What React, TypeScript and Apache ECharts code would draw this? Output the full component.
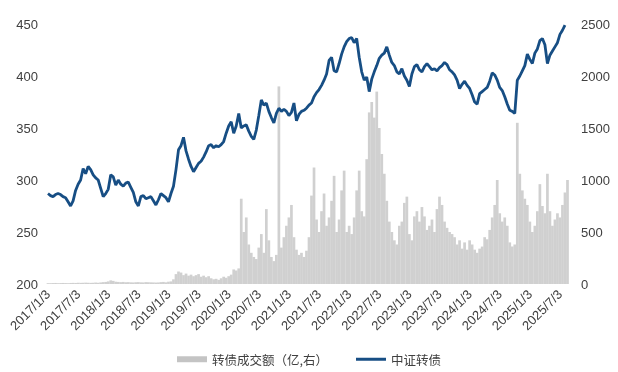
import React, { useEffect, useRef } from "react";
import * as echarts from "echarts";

// Sample step in months (x = months since 2017/1/3)
const stepMonths = 0.5;

// 中证转债 index, one reading every half month from 2017/1/3
const lineIndex = [
  287, 285, 284, 286, 287, 286, 284, 283, 279, 275,
  280, 290, 296, 300, 311, 306, 313, 310, 305, 302,
  300, 292, 284, 287, 291, 305, 303, 295, 300, 296,
  294, 297, 298, 293, 288, 279, 275, 284, 285, 282,
  283, 284, 280, 276, 281, 287, 285, 283, 279, 287,
  294, 310, 329, 333, 341, 328, 320, 313, 308, 312,
  316, 318, 322, 327, 333, 334, 331, 333, 332, 334,
  337, 345, 352, 356, 345, 352, 364, 350, 352, 353,
  347, 342, 339, 348, 362, 377, 372, 374, 366, 360,
  355, 364, 369, 366, 368, 366, 362, 365, 374, 357,
  363, 366, 367, 369, 372, 374, 380, 384, 387, 391,
  396, 402, 415, 418, 405, 404, 412, 421, 428, 433,
  436, 437, 432, 436, 418, 404, 396, 399, 385, 397,
  404, 410, 417, 420, 422, 428, 420, 413, 410, 404,
  402, 407, 400, 396, 390, 402, 409, 411, 406, 404,
  409, 412, 409, 406, 407, 405, 408, 410, 413, 411,
  406, 404, 401, 396, 388, 392, 395, 391, 388, 382,
  375, 373, 383, 385, 387, 389, 395, 403, 401, 396,
  389, 386, 380, 373, 367, 366, 364, 396, 400, 405,
  410, 421, 416, 412, 422, 426, 434, 436, 430, 412,
  420, 424, 428, 432, 440, 444, 449,
];

// 转债成交额 (亿), one reading every half month from 2017/1/3
const turnover = [
  8, 8, 9, 10, 8, 9, 10, 9, 8, 10,
  11, 10, 12, 11, 12, 13, 12, 11, 12, 14,
  12, 15, 18, 20, 25, 35, 30, 22, 20, 18,
  20, 17, 18, 16, 15, 17, 18, 16, 15, 18,
  17, 16, 15, 14, 15, 18, 20, 16, 22, 25,
  45, 95, 120, 110, 85, 100, 80, 90, 75, 85,
  95, 70, 80, 65, 75, 55, 45, 50, 40, 55,
  70, 60, 75, 90, 140, 130, 150, 820, 500, 640,
  380, 300, 260, 240, 350, 480, 300, 720, 420, 260,
  220, 280, 1900, 350, 450, 560, 640, 760, 450, 330,
  280, 300, 260, 320, 450, 850, 1120, 620, 500, 700,
  870, 560, 640, 800, 1040, 500, 620, 900, 1090, 500,
  560, 480, 640, 900, 1090, 700, 650, 1200, 1650, 1750,
  1600, 1850, 1500, 1250, 1060, 800, 600, 500, 420, 380,
  560, 600, 780, 840, 480, 420, 650, 700, 600, 740,
  650, 520, 560, 620, 500, 720, 840, 760, 600, 540,
  500, 480, 450, 380, 420, 340, 400, 330, 420, 380,
  330, 300, 340, 360, 450, 430, 520, 640, 760, 1000,
  680, 600, 640, 560, 400, 360, 380, 1550, 1060, 900,
  820, 760, 600, 500, 560, 700, 960, 750, 680, 1060,
  700, 560, 620, 680, 640, 760, 880, 1000,
];

const startYear = 2017;
const barName = "转债成交额（亿,右）";
const lineName = "中证转债";

export default function App() {
  const ref = useRef<HTMLDivElement>(null);

  useEffect(() => {
    if (!ref.current) return;
    const chart = echarts.init(ref.current, null, { renderer: "svg" });
    const labelColor = "#404040";
    const lineColor = "#174e84";
    chart.setOption({
      animation: false,
      textStyle: { fontFamily: "Liberation Sans, Arial, sans-serif" },
      grid: { left: 48, right: 48, top: 24, bottom: 88 },
      legend: {
        left: "center",
        top: 348,
        itemWidth: 30,
        itemHeight: 6,
        itemGap: 28,
        textStyle: {
          fontFamily: "Noto Sans CJK SC",
          fontSize: 12.5,
          color: labelColor,
        },
        data: [
          { name: barName, icon: "rect", itemStyle: { color: "#c4c4c4" } },
          {
            name: lineName,
            icon: "path://M0,0 L30,0 L30,3 L0,3 Z",
            itemStyle: { color: lineColor, borderWidth: 0 },
          },
        ],
      },
      xAxis: {
        type: "value",
        min: 0,
        max: 104,
        interval: 6,
        axisLine: { show: false },
        axisTick: { show: false },
        splitLine: { show: false },
        axisLabel: {
          rotate: 45,
          fontSize: 13,
          color: labelColor,
          margin: 8,
          showMaxLabel: false,
          formatter: (v: number) => {
            if (v > 102 || v % 6 !== 0) return "";
            const y = startYear + Math.floor(v / 12);
            const m = (v % 12) + 1;
            return `${y}/${m}/3`;
          },
        },
      },
      yAxis: [
        {
          type: "value",
          position: "left",
          min: 200,
          max: 450,
          interval: 50,
          axisLine: { show: false },
          axisTick: { show: false },
          splitLine: { show: false },
          axisLabel: {
            fontSize: 13,
            color: labelColor,
            margin: 10,
            formatter: (v: number) => String(v),
          },
        },
        {
          type: "value",
          position: "right",
          min: 0,
          max: 2500,
          interval: 500,
          axisLine: { show: false },
          axisTick: { show: false },
          splitLine: { show: false },
          axisLabel: {
            fontSize: 13,
            color: labelColor,
            margin: 11,
            formatter: (v: number) => String(v),
          },
        },
      ],
      series: [
        {
          name: barName,
          type: "bar",
          yAxisIndex: 1,
          barWidth: 2.7,
          itemStyle: { color: "#d0d0d0" },
          data: turnover.map((v, i) => [i * stepMonths, v]),
          z: 1,
        },
        {
          name: lineName,
          type: "line",
          yAxisIndex: 0,
          symbol: "none",
          lineStyle: { color: lineColor, width: 2.8 },
          itemStyle: { color: lineColor },
          data: lineIndex.map((v, i) => [i * stepMonths, v]),
          z: 3,
        },
      ],
    });
    return () => chart.dispose();
  }, []);

  return (
    <div
      ref={ref}
      style={{ position: "fixed", left: 0, top: 0, width: 618, height: 372 }}
    />
  );
}
